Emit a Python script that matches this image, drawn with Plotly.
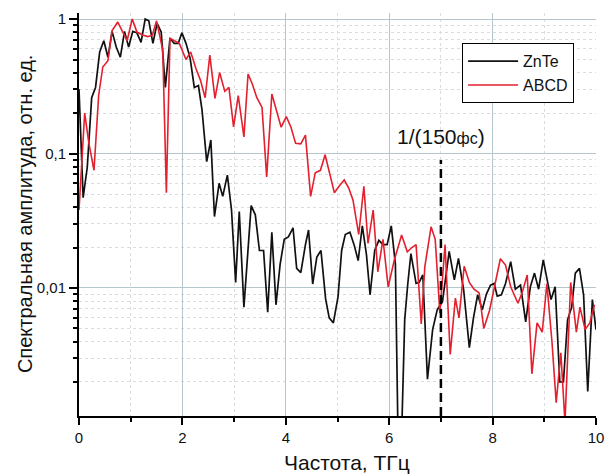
import plotly.graph_objects as go

# Spectral amplitude (normalised) vs frequency, THz
freq_znte = [0.00, 0.08, 0.16, 0.245, 0.32, 0.40, 0.48, 0.56, 0.64, 0.72,
             0.80, 0.88, 0.96, 1.04, 1.12, 1.20, 1.28, 1.35, 1.43, 1.51,
             1.59, 1.67, 1.76, 1.84, 1.92, 1.99, 2.07, 2.15, 2.23, 2.31,
             2.38, 2.47, 2.55, 2.62, 2.71, 2.78, 2.87, 2.95, 3.03, 3.10,
             3.19, 3.33, 3.41, 3.49, 3.57, 3.65, 3.73, 3.81, 3.89, 3.97,
             4.05, 4.14, 4.21, 4.29, 4.38, 4.44, 4.52, 4.60, 4.68, 4.77,
             4.84, 4.92, 5.01, 5.08, 5.15, 5.24, 5.32, 5.40, 5.48, 5.56,
             5.63, 5.72, 5.80, 5.88, 5.96, 6.04, 6.12, 6.17, 6.24, 6.30,
             6.36, 6.42, 6.52, 6.58, 6.65, 6.74, 6.84, 6.93, 7.03, 7.16,
             7.26, 7.34, 7.44, 7.55, 7.63, 7.71, 7.80, 7.88, 7.96, 8.03,
             8.09, 8.17, 8.25, 8.35, 8.44, 8.54, 8.64, 8.73, 8.81, 8.89,
             8.98, 9.05, 9.13, 9.21, 9.30, 9.37, 9.45, 9.53, 9.60, 9.68,
             9.76, 9.84, 9.93, 10.0]
amp_znte = [0.30, 0.047, 0.079, 0.26, 0.31, 0.57, 0.69, 0.52, 0.81, 0.62,
            0.52, 0.81, 0.62, 0.81, 0.79, 0.67, 1.00, 0.97, 0.66, 0.93,
            0.80, 0.31, 0.72, 0.66, 0.66, 0.79, 0.66, 0.51, 0.31, 0.32,
            0.21, 0.087, 0.126, 0.034, 0.060, 0.048, 0.069, 0.038, 0.011, 0.037,
            0.0072, 0.041, 0.035, 0.019, 0.019, 0.0066, 0.026, 0.0075, 0.015, 0.023,
            0.024, 0.028, 0.014, 0.013, 0.021, 0.027, 0.0107, 0.017, 0.019, 0.0083,
            0.0060, 0.0055, 0.0086, 0.019, 0.025, 0.026, 0.021, 0.016, 0.029, 0.0177,
            0.0089, 0.019, 0.0226, 0.021, 0.021, 0.029, 0.015, 0.0008, 0.0008, 0.0058,
            0.0108, 0.018, 0.0108, 0.011, 0.0125, 0.0021, 0.0049, 0.0069, 0.0079, 0.0187,
            0.0115, 0.0166, 0.0097, 0.0036, 0.0060, 0.0089, 0.0069, 0.0090, 0.0105, 0.0108,
            0.0087, 0.0089, 0.0108, 0.0157, 0.0098, 0.0105, 0.0056, 0.0102, 0.0129, 0.0098,
            0.0162, 0.0121, 0.0082, 0.0102, 0.0020, 0.0020, 0.0058, 0.0072, 0.0129, 0.0140,
            0.0089, 0.0017, 0.0082, 0.0049]

freq_abcd = [0.00, 0.11, 0.19, 0.29, 0.38, 0.46, 0.56, 0.64, 0.75, 0.84,
             0.93, 1.03, 1.12, 1.23, 1.33, 1.42, 1.50, 1.62, 1.69, 1.76,
             1.85, 1.94, 2.07, 2.16, 2.26, 2.35, 2.44, 2.53, 2.63, 2.72,
             2.82, 2.90, 2.99, 3.08, 3.19, 3.27, 3.35, 3.44, 3.54, 3.63,
             3.73, 3.83, 3.91, 4.01, 4.10, 4.19, 4.29, 4.38, 4.48, 4.57,
             4.67, 4.76, 4.85, 4.94, 5.03, 5.13, 5.22, 5.30, 5.41, 5.51,
             5.59, 5.69, 5.78, 5.88, 5.98, 6.10, 6.24, 6.35, 6.44, 6.52,
             6.62, 6.69, 6.81, 6.89, 6.98, 7.08, 7.18, 7.28, 7.35, 7.45,
             7.55, 7.64, 7.74, 7.83, 7.94, 8.06, 8.15, 8.25, 8.35, 8.49,
             8.57, 8.67, 8.76, 8.86, 8.96, 9.05, 9.15, 9.23, 9.32, 9.40,
             9.51, 9.62, 9.69, 9.79, 9.88, 9.97]
amp_abcd = [0.038, 0.20, 0.12, 0.075, 0.27, 0.44, 0.49, 0.82, 0.95, 0.80,
            0.69, 1.00, 0.80, 0.76, 0.74, 0.76, 0.97, 0.59, 0.051, 0.72,
            0.69, 0.66, 0.50, 0.57, 0.43, 0.35, 0.26, 0.54, 0.257, 0.40,
            0.29, 0.31, 0.158, 0.27, 0.133, 0.39, 0.33, 0.26, 0.22, 0.067,
            0.277, 0.20, 0.157, 0.188, 0.157, 0.119, 0.118, 0.137, 0.048, 0.072,
            0.075, 0.098, 0.070, 0.051, 0.057, 0.0635, 0.055, 0.045, 0.025, 0.057,
            0.0215, 0.038, 0.0132, 0.023, 0.0102, 0.0162, 0.0248, 0.0186, 0.020, 0.021,
            0.0054, 0.0145, 0.0285, 0.023, 0.0065, 0.021, 0.0032, 0.0084, 0.0060, 0.0145,
            0.011, 0.0098, 0.0092, 0.0050, 0.0068, 0.011, 0.0165, 0.0148, 0.0102, 0.0077,
            0.0092, 0.0125, 0.0023, 0.0055, 0.0047, 0.0108, 0.0039, 0.0014, 0.0033, 0.0010,
            0.011, 0.0047, 0.0072, 0.0049, 0.0055, 0.0075]

cutoff_freq = 7.0  # 1/(150 fs)

x_title = "Частота, ТГц"
y_title = "Спектральная амплитуда, отн. ед."

FONT = "Liberation Sans, Arial, sans-serif"
MAJOR_GRID = "#b4c7cb"
MINOR_GRID = "#d9dde0"

fig = go.Figure()
fig.add_trace(go.Scatter(x=freq_znte, y=amp_znte, mode="lines", name="ZnTe",
                         line=dict(color="#111111", width=1.7)))
fig.add_trace(go.Scatter(x=freq_abcd, y=amp_abcd, mode="lines", name="ABCD",
                         line=dict(color="#e4202e", width=1.6)))

# dashed marker of the 1/(150 fs) frequency
fig.add_shape(type="line", xref="x", yref="y domain",
              x0=cutoff_freq, x1=cutoff_freq, y0=0, y1=0.635,
              line=dict(color="black", width=2.5, dash="9px,5px"))
fig.add_annotation(x=cutoff_freq, xref="x", y=0.66, yref="y domain",
                   yanchor="bottom",
                   text="1/(150<span style='font-size:16px'>фс</span>)",
                   showarrow=False, font=dict(family=FONT, size=21, color="#111"))

# axis titles
fig.add_annotation(text=x_title, xref="paper", yref="paper", x=0.519, y=0,
                   xanchor="center", yanchor="middle", yshift=-46,
                   showarrow=False, font=dict(family=FONT, size=21, color="#111"))
fig.add_annotation(text=y_title, xref="paper", yref="paper", x=0, y=0.501,
                   xanchor="center", yanchor="middle", xshift=-54, textangle=-90,
                   showarrow=False, font=dict(family=FONT, size=20, color="#111"))

fig.update_layout(
    width=606, height=475,
    margin=dict(l=79, r=10, t=13, b=59),
    paper_bgcolor="white", plot_bgcolor="white",
    separators=", ",
    font=dict(family=FONT, color="#111"),
    legend=dict(x=0.741, y=0.925, xanchor="left", yanchor="top",
                bgcolor="white", bordercolor="black", borderwidth=1,
                font=dict(family=FONT, size=16, color="#111"),
                tracegroupgap=0, itemwidth=50),
)

fig.update_xaxes(
    range=[0, 10], dtick=2, tick0=0, automargin=False,
    showline=True, linecolor="black", linewidth=2,
    ticks="outside", ticklen=7, tickwidth=1.5, tickcolor="black",
    showgrid=True, gridcolor=MAJOR_GRID, gridwidth=1, zeroline=False,
    minor=dict(dtick=1, ticks="outside", ticklen=4, tickwidth=1.5, tickcolor="black",
               showgrid=True, gridcolor=MINOR_GRID, griddash="dot", gridwidth=1),
    tickfont=dict(size=15, family=FONT, color="#111"),
)

fig.update_yaxes(
    type="log", range=[-2.952, 0.045], dtick=1, automargin=False,
    showline=True, linecolor="black", linewidth=2,
    ticks="outside", ticklen=8, tickwidth=1.5, tickcolor="black",
    showgrid=True, gridcolor=MAJOR_GRID, gridwidth=1, zeroline=False,
    minor=dict(dtick="D1", ticks="outside", ticklen=4, tickwidth=1.5, tickcolor="black",
               showgrid=True, gridcolor=MINOR_GRID, griddash="dot", gridwidth=1),
    tickfont=dict(size=15, family=FONT, color="#111"),
)

fig.write_html("out.html")
